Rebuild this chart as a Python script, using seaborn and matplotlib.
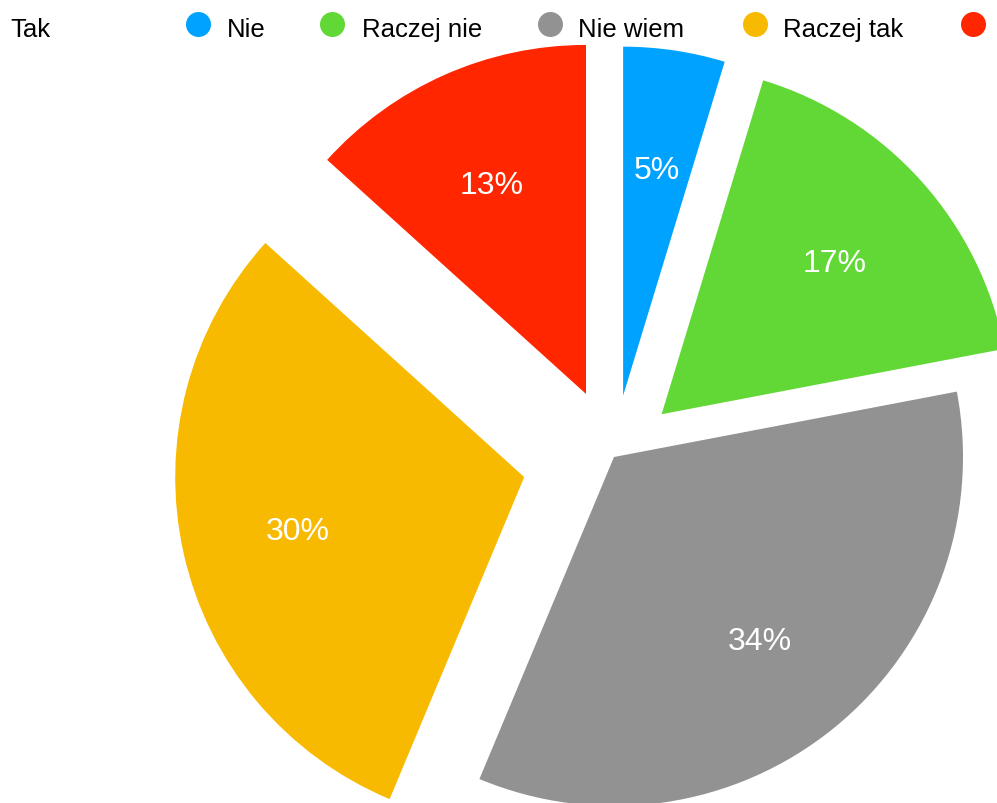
import matplotlib
matplotlib.use("Agg")
import matplotlib.pyplot as plt
import seaborn as sns

# ---- data ----
categories = ["Nie", "Raczej nie", "Nie wiem", "Raczej tak", "Tak"]
values = [4.7, 17.3, 34.3, 30.4, 13.3]
hex_colors = ["#00A2FF", "#61D836", "#929292", "#F8BA00", "#FF2600"]

# ---- style / layout ----
explode_px = [62, 64, 0, 92, 69]
W, H = 997, 804

sns.set_theme(style="white")
plt.rcParams["font.family"] = ["Liberation Sans", "DejaVu Sans"]
palette = sns.color_palette(hex_colors)

fig = plt.figure(figsize=(W / 100, H / 100), dpi=100)
ax = fig.add_axes([0, 0, 1, 1])

wedges, texts, autotexts = ax.pie(
    values,
    colors=palette,
    explode=explode_px,
    center=(614, H - 458),
    radius=349,
    startangle=90,
    counterclock=False,
    autopct="%.0f%%",
    pctdistance=0.665,
    textprops=dict(color="white", fontsize=23),
    wedgeprops=dict(linewidth=0),
    frame=False,
)
for t in autotexts:
    t.set_va("center_baseline")

ax.set_xlim(0, W)
ax.set_ylim(0, H)
ax.set_aspect("auto")
ax.axis("off")

# ---- legend (wrapped: last label on the left) ----
legend_x = [198, 332, 550, 755, 973]
label_x = [227, 362, 578, 783, 10]
for cx, lx, lab, col in zip(legend_x, label_x, categories, palette):
    ax.plot([cx], [H - 25], marker="o", markersize=18, color=col,
            markeredgewidth=0, clip_on=False)
    ax.text(lx, H - 37, lab, fontsize=18.5, color="black",
            ha="left", va="baseline")

fig.savefig("out.png", dpi=100, facecolor="white")
